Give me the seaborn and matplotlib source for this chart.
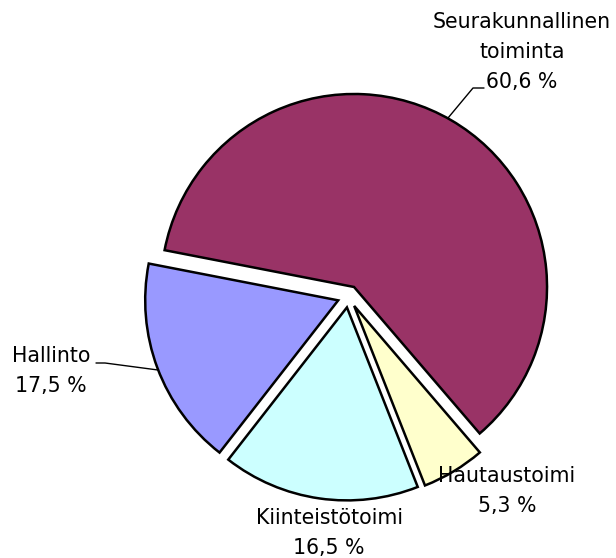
import matplotlib
matplotlib.use("Agg")
import matplotlib.pyplot as plt
import seaborn as sns

categories = ["Seurakunnallinen\ntoiminta", "Hautaustoimi", "Kiinteistötoimi", "Hallinto"]
values = [60.6, 5.3, 16.5, 17.5]
value_labels = ["60,6 %", "5,3 %", "16,5 %", "17,5 %"]
colors = ["#993366", "#FFFFCC", "#CCFFFF", "#9999FF"]

sns.set_theme(style="white")
plt.rcParams['font.family'] = ['DejaVu Sans']

W, H = 616, 558
fig = plt.figure(figsize=(W / 100, H / 100), dpi=100)
ax = fig.add_axes([0, 0, 1, 1])

CX, CY, R = 348.5, 296.5, 193.0


def px(x, y):
    return ((x - CX) / R, (CY - y) / R)


ax.pie(values, colors=colors, startangle=169, counterclock=False,
       explode=[0.057] * len(values), radius=1.0,
       wedgeprops=dict(edgecolor="black", linewidth=1.8))

ax.set_aspect("equal")
x0, _ = px(0, 0)
x1, _ = px(W, 0)
_, y0 = px(0, H)
_, y1 = px(0, 0)
ax.set_xlim(x0, x1)
ax.set_ylim(y0, y1)
ax.axis("off")

fs = 14.8
label_pos = [(522, 52), (507, 491), (329, 533), (51, 371)]
for cat, vl, (lx, ly) in zip(categories, value_labels, label_pos):
    X, Y = px(lx, ly)
    ax.text(X, Y, f"{cat}\n{vl}", ha="center", va="center", fontsize=fs,
            linespacing=1.6, color="black", zorder=5)

# leader lines
for pts in ([(448, 118), (473, 88), (484, 88)],
            [(158, 370), (105, 363), (96, 363)]):
    xs, ys = zip(*[px(a, b) for a, b in pts])
    ax.plot(xs, ys, color="black", linewidth=1.0, zorder=4)

fig.savefig("out.png", dpi=100, facecolor="white")
